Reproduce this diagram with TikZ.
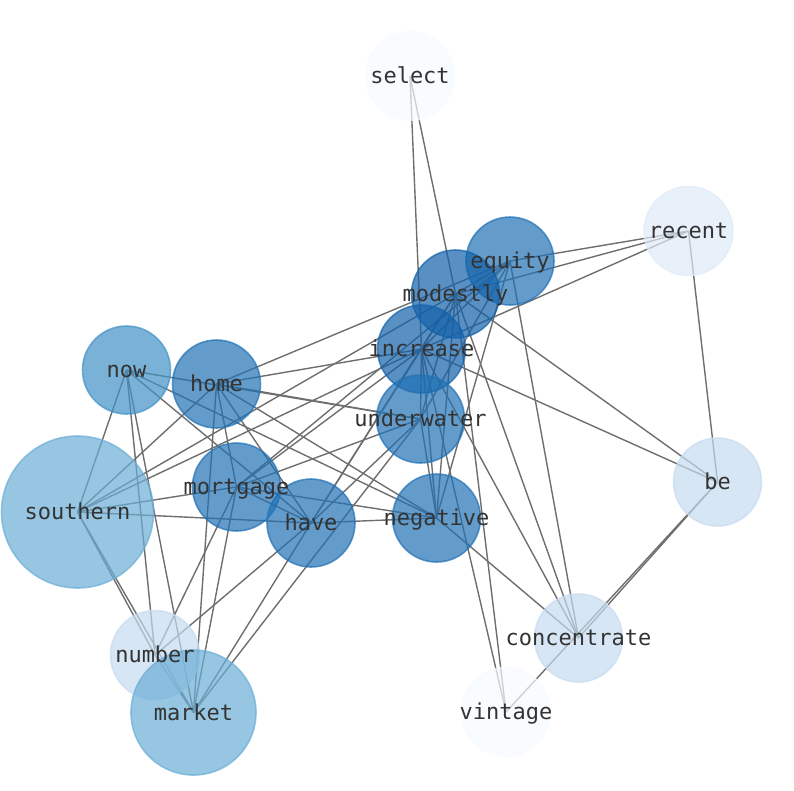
\documentclass[tikz,border=0pt]{standalone}
\usepackage{fontspec}
\newfontfamily\labfont{DejaVu Sans Mono}
\definecolor{cA}{HTML}{F7FBFF}
\definecolor{cB}{HTML}{DEEBF7}
\definecolor{cC}{HTML}{C6DBEF}
\definecolor{cD}{HTML}{6BAED6}
\definecolor{cE}{HTML}{4292C6}
\definecolor{cF}{HTML}{2171B5}
\definecolor{cG}{HTML}{1361A9}
\definecolor{txt}{HTML}{333333}
\definecolor{edgec}{HTML}{6E6E6E}
\pgfdeclarelayer{edgelayer}
\pgfdeclarelayer{textlayer}
\pgfsetlayers{edgelayer,main,textlayer}
\tikzset{
  blob/.style={circle, inner sep=0pt, minimum size=#1, fill opacity=0.7, draw opacity=0.7, line width=1.6pt},
  lab/.style={inner sep=0pt, text height=0.76em, text depth=0.24em, text=txt, font=\labfont\fontsize{22}{26}\selectfont, yshift=-5pt},
  link/.style={draw=edgec, line width=1.4pt}
}
\begin{document}
\begin{tikzpicture}[x=1pt,y=-1pt]
\useasboundingbox (0,0) rectangle (794,790);
% circles
\node[blob=89pt, fill=cA, draw=cA] (sel) at (410,76) {};
\node[blob=89pt, fill=cB, draw=cB] (rec) at (688.5,231) {};
\node[blob=88pt, fill=cF, draw=cF] (equ) at (510,261) {};
\node[blob=88pt, fill=cG, draw=cG] (mod) at (455.5,294) {};
\node[blob=88pt, fill=cG, draw=cG] (inc) at (421.5,349) {};
\node[blob=88pt, fill=cF, draw=cF] (und) at (420.5,419) {};
\node[blob=88pt, fill=cE, draw=cE] (now) at (126.5,370) {};
\node[blob=88pt, fill=cF, draw=cF] (hom) at (216.5,384) {};
\node[blob=152pt, fill=cD, draw=cD] (sou) at (77.5,512) {};
\node[blob=88pt, fill=cF, draw=cF] (mor) at (236.5,487) {};
\node[blob=88pt, fill=cF, draw=cF] (hav) at (311,523) {};
\node[blob=88pt, fill=cF, draw=cF] (neg) at (436.5,518) {};
\node[blob=88pt, fill=cC, draw=cC] (be) at (717.5,482) {};
\node[blob=88pt, fill=cC, draw=cC] (con) at (578.5,638) {};
\node[blob=89pt, fill=cC, draw=cC] (num) at (155,655) {};
\node[blob=125pt, fill=cD, draw=cD] (mar) at (193.5,712.5) {};
\node[blob=89pt, fill=cA, draw=cA] (vin) at (506,712) {};
% edges
\begin{pgfonlayer}{edgelayer}
\foreach \a/\b in {sel/inc, sel/mod,
  rec/equ, rec/mod, rec/inc, rec/be,
  be/mod, be/inc, be/con, be/vin,
  con/equ, con/mod, con/inc, con/neg,
  vin/mod, vin/inc,
  equ/mod, equ/inc, equ/und, equ/neg, equ/hom, equ/mor,
  mod/inc, mod/und, mod/neg, mod/sou, mod/hav,
  inc/und, inc/neg, inc/hom, inc/mor, inc/hav, inc/sou,
  und/neg, und/now, und/hom, und/mor, und/hav, und/mar,
  neg/hom, neg/now, neg/mor, neg/hav,
  now/sou, now/num, now/mar, now/hav,
  hom/sou, hom/hav, hom/mar, hom/mor,
  sou/mor, sou/hav, sou/num, sou/mar,
  mor/mar, mor/num, mor/hav,
  hav/num, hav/mar, num/mar}
  \draw[link] (\a.center) -- (\b.center);
\end{pgfonlayer}
% labels
\begin{pgfonlayer}{textlayer}
\node[lab] (sel-t) at (sel) {select};
\node[lab] (rec-t) at (rec) {recent};
\node[lab] (equ-t) at (equ) {equity};
\node[lab] (mod-t) at (mod) {modestly};
\node[lab] (inc-t) at (inc) {increase};
\node[lab] (und-t) at (und) {underwater};
\node[lab] (now-t) at (now) {now};
\node[lab] (hom-t) at (hom) {home};
\node[lab] (sou-t) at (sou) {southern};
\node[lab] (mor-t) at (mor) {mortgage};
\node[lab] (hav-t) at (hav) {have};
\node[lab] (neg-t) at (neg) {negative};
\node[lab] (be-t) at (be) {be};
\node[lab] (con-t) at (con) {concentrate};
\node[lab] (num-t) at (num) {number};
\node[lab] (mar-t) at (mar) {market};
\node[lab] (vin-t) at (vin) {vintage};
\end{pgfonlayer}
\end{tikzpicture}
\end{document}
